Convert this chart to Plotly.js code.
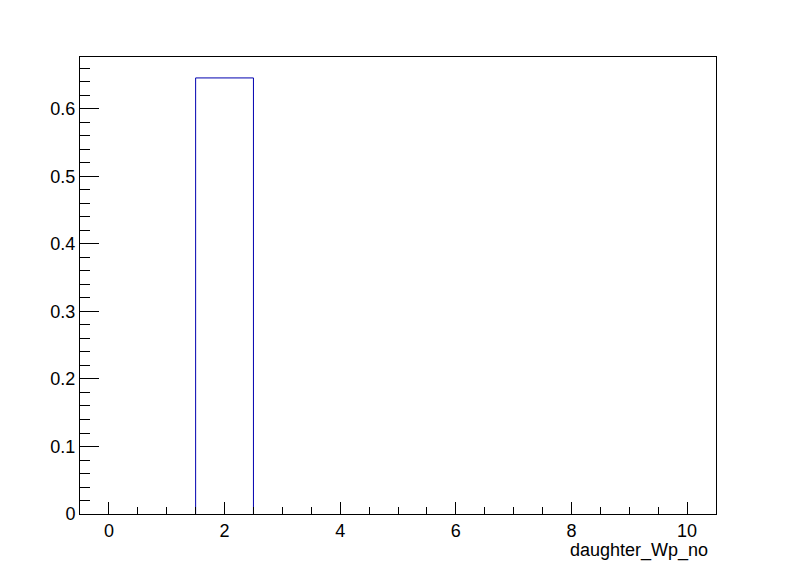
<!DOCTYPE html>
<html>
<head>
<meta charset="utf-8">
<script src="https://cdn.plot.ly/plotly-3.0.1.min.js"></script>
<style>html,body{margin:0;padding:0;background:#fff;}#chart{width:796px;height:572px;}</style>
</head>
<body>
<div id="chart"></div>
<script>
const binCenters = [0, 1, 2, 3, 4, 5, 6, 7, 8, 9, 10];
const binValues = [0, 0, 0.646, 0, 0, 0, 0, 0, 0, 0, 0];
const xTitle = "daughter_Wp_no";

// build step outline from the bins (only the non-empty ones)
const sx = [], sy = [];
for (let i = 0; i < binCenters.length; i++) {
  if (binValues[i] > 0) {
    const lo = binCenters[i] - 0.5, hi = binCenters[i] + 0.5;
    sx.push(lo, lo, hi, hi, null);
    sy.push(0, binValues[i], binValues[i], 0, null);
  }
}

const trace = {
  x: sx, y: sy, type: 'scatter', mode: 'lines',
  line: {color: '#0000b0', width: 1},
  hoverinfo: 'skip', showlegend: false
};

const font = {family: 'Liberation Sans, Arial, sans-serif', size: 18, color: '#000'};

const layout = {
  width: 796, height: 572,
  margin: {l: 80, r: 80, t: 57, b: 58},
  paper_bgcolor: '#fff', plot_bgcolor: '#fff',
  font: font,
  showlegend: false,
  xaxis: {
    range: [-0.5, 10.5], tickmode: 'linear', tick0: 0, dtick: 2,
    ticks: 'inside', ticklen: 12, tickcolor: '#000', tickwidth: 1,
    minor: {dtick: 0.5, ticks: 'inside', ticklen: 7, tickcolor: '#000', showgrid: false},
    showgrid: false, zeroline: false, showline: true, linecolor: '#000', linewidth: 1, mirror: true,
    tickfont: font
  },
  yaxis: {
    range: [0, 0.677], tickmode: 'linear', tick0: 0, dtick: 0.1,
    ticks: 'inside', ticklen: 19, tickcolor: '#000', tickwidth: 1,
    minor: {dtick: 0.02, ticks: 'inside', ticklen: 10, tickcolor: '#000', showgrid: false},
    showgrid: false, zeroline: false, showline: true, linecolor: '#000', linewidth: 1, mirror: true,
    tickfont: font
  },
  annotations: [{
    text: xTitle, xref: 'paper', yref: 'paper', x: 1, y: 0,
    xanchor: 'right', yanchor: 'top', yshift: -24, xshift: -6, showarrow: false, font: font
  }]
};

Plotly.newPlot('chart', [trace], layout, {staticPlot: true});
</script>
</body>
</html>
